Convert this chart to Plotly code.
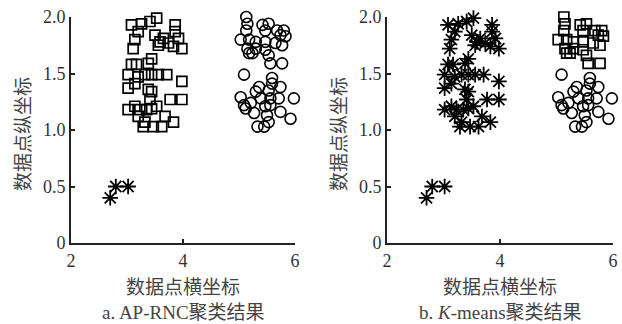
import plotly.graph_objects as go

# Cluster A (left "6"-shaped group)
a_x = [3.08, 3.26, 3.41, 3.53, 3.86, 3.86, 3.20, 3.14, 3.50, 3.65, 3.59, 3.56, 3.74, 3.92,
       3.98, 3.11, 3.83, 3.44, 3.38, 3.08, 3.17, 3.02, 3.20, 3.32, 3.44, 3.56, 3.71, 3.98,
       3.02, 3.14, 3.38, 3.44, 3.41, 3.77, 3.98, 3.02, 3.14, 3.23, 3.35, 3.44, 3.53, 3.20,
       3.32, 3.47, 3.62, 3.68, 3.83, 3.29]
a_y = [1.93, 1.94, 1.96, 1.99, 1.93, 1.87, 1.87, 1.80, 1.84, 1.81, 1.78, 1.75, 1.77, 1.81,
       1.72, 1.72, 1.74, 1.63, 1.59, 1.58, 1.58, 1.49, 1.47, 1.49, 1.49, 1.49, 1.49, 1.43,
       1.37, 1.41, 1.36, 1.34, 1.27, 1.27, 1.27, 1.18, 1.21, 1.18, 1.18, 1.19, 1.21, 1.12,
       1.07, 1.03, 1.03, 1.12, 1.07, 1.03]

# Cluster B, upper part (K-means squares)
b_top_x = [5.13, 5.15, 5.13, 5.42, 5.53, 5.47, 5.68, 5.80, 5.74, 5.83, 5.03, 5.18, 5.30,
           5.47, 5.65, 5.77, 5.15, 5.30, 5.47, 5.18, 5.24, 5.53, 5.56, 5.77]
b_top_y = [2.00, 1.94, 1.88, 1.93, 1.94, 1.88, 1.88, 1.88, 1.84, 1.83, 1.80, 1.80, 1.78,
           1.78, 1.77, 1.75, 1.72, 1.72, 1.71, 1.68, 1.68, 1.66, 1.59, 1.59]

# Cluster B, lower part (K-means circles)
b_bot_x = [5.09, 5.59, 5.59, 5.74, 5.36, 5.30, 5.53, 5.03, 5.39, 5.56, 5.71, 5.98, 5.09,
           5.12, 5.21, 5.47, 5.56, 5.74, 5.27, 5.50, 5.92, 5.53, 5.33, 5.45]
b_bot_y = [1.49, 1.46, 1.41, 1.38, 1.38, 1.34, 1.35, 1.29, 1.28, 1.28, 1.28, 1.28, 1.22,
           1.19, 1.24, 1.21, 1.22, 1.16, 1.15, 1.13, 1.10, 1.07, 1.03, 1.03]

# Outliers
o_x = [2.70, 2.80, 3.02]
o_y = [0.40, 0.50, 0.50]

x_ticks = [2, 4, 6]
y_ticks = [0, 0.5, 1.0, 1.5, 2.0]
y_tick_text = ["0", "0.5", "1.0", "1.5", "2.0"]
x_title = "数据点横坐标"
y_title = "数据点纵坐标"
captions = ["a. AP-RNC聚类结果", "b. <i>K</i>-means聚类结果"]

W, H = 622, 324
FONT = "Liberation Serif, Times New Roman, Noto Sans CJK SC, serif"
TXT = "#333333"
TXT_CN = "#444444"

sq = dict(symbol="square-open", size=10, color="black", line=dict(width=1.7, color="black"))
ci = dict(symbol="circle-open", size=11, color="black", line=dict(width=1.6, color="black"))
st = dict(symbol="asterisk-open", size=13, color="black", line=dict(width=1.8, color="black"))

fig = go.Figure()
def add(xs, ys, mk, xa, ya):
    fig.add_trace(go.Scatter(x=xs, y=ys, mode="markers", marker=mk, xaxis=xa, yaxis=ya,
                             cliponaxis=False, hoverinfo="skip"))

# Panel a
add(a_x, a_y, sq, "x", "y")
add(b_top_x + b_bot_x, b_top_y + b_bot_y, ci, "x", "y")
add(o_x, o_y, st, "x", "y")
# Panel b
add(a_x + o_x, a_y + o_y, st, "x2", "y2")
add(b_top_x, b_top_y, sq, "x2", "y2")
add(b_bot_x, b_bot_y, ci, "x2", "y2")

ydom = [1 - 243 / H, 1 - 17 / H]
xdoms = [[71 / W, 295 / W], [387 / W, 613 / W]]

common_x = dict(range=[2, 6], tickvals=x_ticks, ticks="inside", ticklen=4, tickwidth=1.5,
                tickcolor="#222", showline=True, linecolor="#222", linewidth=2, automargin=False,
                showgrid=False, zeroline=False, tickfont=dict(family=FONT, size=18, color=TXT))
common_y = dict(range=[0, 2], tickvals=y_ticks, ticktext=y_tick_text, ticks="inside", ticklen=4,
                tickwidth=1.5, tickcolor="#222", showline=True, linecolor="#222", linewidth=2,
                showgrid=False, zeroline=False, domain=ydom, automargin=False,
                tickfont=dict(family=FONT, size=18, color=TXT))

fig.update_layout(
    template="none",
    width=W, height=H, margin=dict(l=0, r=0, t=0, b=0, pad=0), autosize=False,
    paper_bgcolor="white", plot_bgcolor="white", showlegend=False,
    xaxis=dict(domain=xdoms[0], anchor="y", **common_x),
    yaxis=dict(anchor="x", **common_y),
    xaxis2=dict(domain=xdoms[1], anchor="y2", **common_x),
    yaxis2=dict(anchor="x2", **common_y),
)

anns = []
for i, dom in enumerate(xdoms):
    cx = (dom[0] + dom[1]) / 2
    anns.append(dict(x=cx, y=1 - 287 / H, xref="paper", yref="paper", text=x_title,
                     showarrow=False, xanchor="center", yanchor="middle",
                     font=dict(family=FONT, size=19, color=TXT_CN)))
    anns.append(dict(x=cx, y=1 - 312 / H, xref="paper", yref="paper", text=captions[i],
                     showarrow=False, xanchor="center", yanchor="middle",
                     font=dict(family=FONT, size=19, color=TXT_CN)))
    anns.append(dict(x=dom[0] - 48 / W, y=1 - 134 / H, xref="paper", yref="paper", text=y_title,
                     showarrow=False, xanchor="center", yanchor="middle", textangle=-90,
                     font=dict(family=FONT, size=19, color=TXT_CN)))
fig.update_layout(annotations=anns)

fig.write_html(
    "out.html",
    config={"displayModeBar": False},
    post_script="document.body.style.margin='0';document.body.style.padding='0';"
                "document.body.style.overflow='hidden';",
)
